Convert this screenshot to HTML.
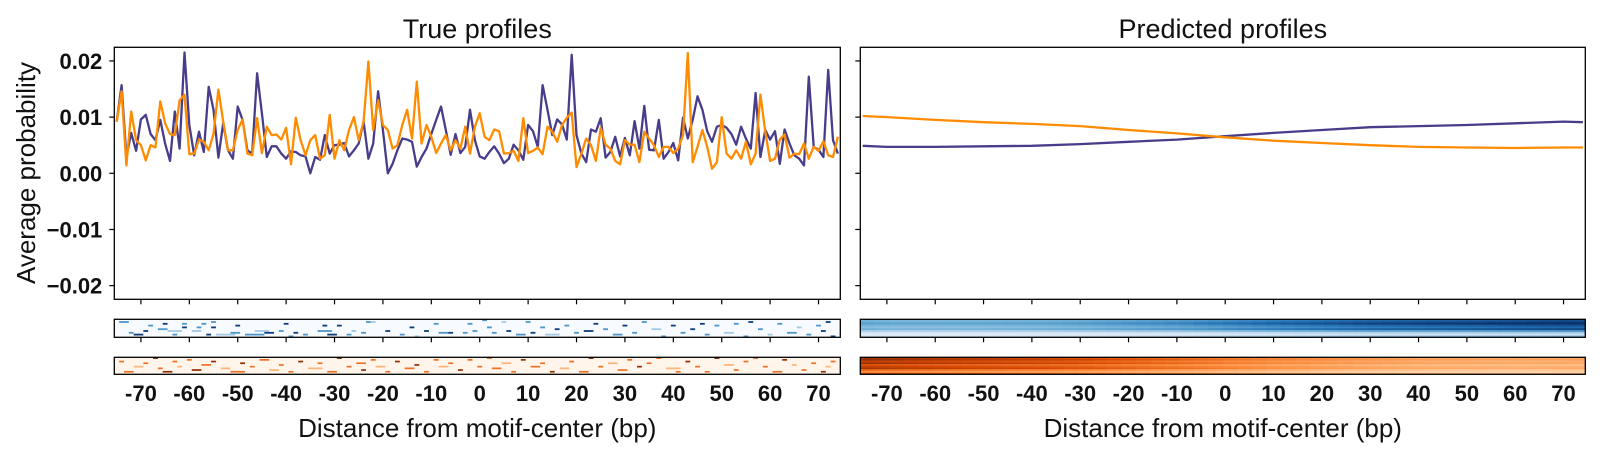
<!DOCTYPE html>
<html><head><meta charset="utf-8"><style>
body{margin:0;background:#fff;width:1600px;height:455px;overflow:hidden}
svg{display:block;font-family:"Liberation Sans",sans-serif}
.tl{font-size:22px;font-weight:bold;fill:#111}
</style></head><body>
<svg id="c" width="1600" height="455"></svg>
<script>
const positions = [];
for (let b = -75; b <= 74; b++) positions.push(b);
const trueBlue = [9.2,15.7,2.9,7.2,4,9.6,10.4,7,5.9,9.5,5.3,2.2,11,4.4,21.5,8.6,3.2,7.4,3.8,15.4,11.3,2.8,8.9,4.1,2.6,11.9,9.5,4.1,3.5,17.8,10.7,2.9,4.8,4.8,3.5,2.6,3.9,3.8,3.2,3,0,2.9,2.4,6.8,3.5,5,5.1,5.4,3,4.1,5.3,9.2,2.6,5.3,14.6,7.7,0,1.7,4.1,6.2,6,5.6,1.2,2.9,4.4,7,9.5,11.9,7.7,3.3,7,3.6,4.7,11.3,5.9,3,2.6,3.8,4.8,3.5,1.8,2.6,5.1,4.1,2.4,8.6,7.5,4.7,15.7,11.3,6.8,9.6,8.7,6,21.1,6.8,3.5,2,7.8,7.4,9.8,2.8,3.8,6.5,3,6.3,3.2,9.3,4.4,12,4.2,4.1,9.5,2.6,3.8,5.4,2.3,9.9,6.2,9.5,13.7,11.3,7.5,5.6,8.3,8.6,8.1,7,5.1,8.3,6.2,4.4,14.3,2.9,7.7,6,7.5,1.7,7.8,5.3,3.2,2.6,1.4,17.2,4.7,4.2,2.9,18.4,5.9,3.5];
const trueOrange = [9.2,14.6,1.4,11,5.9,5,2.3,5,4.6,12.8,8.9,7,6.8,13,14,3.4,3.5,6,5.6,4.1,7,14.9,9.2,4.1,4.1,7.7,9.6,3.5,3.2,9.8,3.6,8.3,6.8,6.9,6,8.1,1.6,9.9,5.9,3.2,5.9,6.8,2.6,3.2,10.4,2.6,5.9,4.1,7.7,10,5.9,9.2,19.9,7.7,13,8.6,7.7,4.4,5,8.6,11.3,6.2,16.3,5.3,8.6,6.5,3.6,5.3,6.8,4.1,5.9,4.4,8.3,3.5,8.3,10.7,6.5,5.9,7.8,7.5,3.5,3.6,4,2.2,9.8,3.6,4,4.6,3.4,8.3,7.4,5.6,8.6,9.9,10.8,1.1,3.5,6.2,5,2.2,8.1,5.1,4.4,2.2,1.6,5.9,5.1,5.1,2,7.4,6.2,5,2.9,4.7,4.7,3.6,4.4,6.8,21.4,2,4.7,7.7,4.7,0.8,2,10,3.5,2.6,4.1,2.6,5.6,1.6,3.5,14,7.4,2.2,2.6,6,6.9,2.8,3.5,3.4,5.3,2.6,4.7,4,5.7,3.2,2.9,6.5];
const predPos = [-75,-70,-60,-50,-40,-30,-20,-10,0,10,20,30,40,50,60,70,74];
const predBlue = [4.9,4.7,4.7,4.8,4.9,5.2,5.6,6.0,6.6,7.2,7.7,8.2,8.4,8.6,8.9,9.2,9.1];
const predOrange = [10.2,10.0,9.5,9.1,8.8,8.4,7.7,7.1,6.4,5.8,5.4,5.0,4.7,4.6,4.5,4.6,4.6];
const xTicks = [-70,-60,-50,-40,-30,-20,-10,0,10,20,30,40,50,60,70];
const yTicks = [0.02,0.01,0,-0.01,-0.02];
const yTickLabels = ["0.02","0.01","0.00","\u22120.01","\u22120.02"];
const predRowBlue = [1.0,1.1,1.2,1.0,0.9,1.05,0.7,0.4,0.25,0.5];
const predRowOrange = [1.1,1.2,1.0,1.15,0.9,1.0,1.1,0.8,0.6,0.9];
const trueCellsBlue = [[-74,1,2,2],[-72,7,2,1],[-71,8,3,2],[-69,6,3,1],[-68,3,2,1],[-66,5,2,2],[-65,2,3,1],[-64,6,1,3],[-63,8,2,1],[-61,4,3,1],[-61,2,2,1],[-59,6,1,2],[-58,4,2,1],[-57,2,2,1],[-56,8,3,1],[-55,1,2,1],[-55,4,3,1],[-54,8,1,4],[-51,7,2,2],[-50,3,3,1],[-48,8,2,4],[-46,6,1,3],[-44,7,3,2],[-41,6,2,1],[-40,2,3,1],[-39,9,2,1],[-38,7,3,1],[-36,8,2,1],[-33,6,2,3],[-32,3,3,1],[-31,8,3,2],[-29,3,3,1],[-27,8,2,1],[-26,6,1,1],[-24,7,2,1],[-23,1,2,1],[-22,1,1,1],[-19,6,3,1],[-16,8,2,1],[-14,4,3,1],[-13,9,1,1],[-11,6,3,1],[-9,2,2,1],[-8,7,2,2],[-6,7,3,1],[-3,7,2,1],[-2,2,2,1],[-1,6,2,1],[1,0,2,1],[2,4,2,1],[3,7,2,1],[5,1,1,1],[6,6,3,1],[8,8,2,2],[10,1,2,1],[11,7,3,1],[13,4,2,1],[14,8,1,3],[16,5,3,1],[18,3,2,1],[20,7,2,1],[22,6,3,2],[24,2,3,1],[26,5,2,1],[28,8,2,2],[30,3,3,1],[32,7,2,1],[34,1,2,1],[36,5,1,2],[38,9,2,1],[40,3,3,1],[42,7,2,1],[44,5,3,1],[46,2,3,1],[47,8,2,1],[49,3,2,1],[51,7,1,2],[53,2,2,1],[55,9,2,1],[56,1,3,1],[58,5,2,1],[60,8,1,1],[62,2,2,1],[64,7,2,2],[66,4,1,1],[68,8,2,1],[70,3,2,1],[71,6,3,1],[73,9,3,1],[72,1,3,1]];
const trueCellsOrange = [[-74,2,2,1],[-73,8,2,2],[-71,5,1,2],[-69,3,2,1],[-67,0,3,1],[-66,6,2,1],[-65,8,3,2],[-63,2,2,1],[-62,5,1,1],[-60,1,2,1],[-59,7,3,2],[-57,4,2,2],[-55,2,3,1],[-53,6,1,2],[-51,8,2,3],[-49,3,3,1],[-47,5,2,1],[-45,1,2,2],[-43,7,1,2],[-41,4,2,1],[-39,8,2,1],[-37,2,3,1],[-35,6,1,3],[-33,3,2,1],[-31,8,2,2],[-29,0,3,1],[-27,5,2,1],[-25,3,2,2],[-24,7,3,1],[-22,1,2,1],[-21,5,1,2],[-19,8,2,1],[-17,2,3,1],[-15,6,2,2],[-13,4,3,1],[-11,8,2,1],[-9,1,2,1],[-8,5,1,2],[-6,3,2,1],[-4,7,3,1],[-2,1,2,1],[0,5,2,1],[2,0,2,1],[3,6,2,2],[5,3,1,2],[7,8,2,1],[9,1,3,1],[11,5,2,2],[13,3,2,1],[15,8,3,1],[17,6,1,2],[19,2,2,1],[21,8,2,2],[23,0,3,1],[25,5,2,1],[27,3,1,2],[29,7,2,2],[31,1,2,1],[33,5,3,1],[35,3,2,1],[37,0,2,1],[39,6,1,3],[41,8,2,1],[43,2,3,1],[45,5,2,1],[47,8,2,1],[49,0,3,1],[51,4,1,2],[53,7,2,1],[55,2,2,1],[57,0,2,1],[59,5,2,1],[61,8,2,2],[63,1,3,1],[65,4,1,1],[67,7,2,1],[69,3,2,1],[71,8,3,1],[72,5,1,1],[73,2,2,1]];

const NS="http://www.w3.org/2000/svg";
const svg=document.getElementById('c');
function el(t,a,p){const e=document.createElementNS(NS,t);for(const k in a)e.setAttribute(k,a[k]);(p||svg).appendChild(e);return e;}
const AX={top:47.3,bot:299.3};
const panels=[{x0:114.3,x1:840.3,title:"True profiles",name:"true"},{x0:860.3,x1:1585.3,title:"Predicted profiles",name:"pred"}];
const YLIM=0.02243;
function yS(v){return 173.3 - v/YLIM*126;}
function mkX(p){return b=>p.x0+(b+75.5)/150*(p.x1-p.x0);}
const blueStops=["#f7fbff","#c6dbef","#6baed6","#2171b5","#08306b"];
const orStops=["#fff5eb","#fdd0a2","#fd8d3c","#d94801","#7f2704"];
function hex(c){return [1,3,5].map(i=>parseInt(c.substr(i,2),16));}
function cmap(st,v){v=Math.max(0,Math.min(1,v));const f=v*(st.length-1),i=Math.min(st.length-2,Math.floor(f)),t=f-i;const a=hex(st[i]),b=hex(st[i+1]);return "rgb("+a.map((x,k)=>Math.round(x+(b[k]-x)*t)).join(",")+")";}
function interp(xs,ys,x){for(let i=0;i<xs.length-1;i++){if(x<=xs[i+1]){const t=(x-xs[i])/(xs[i+1]-xs[i]);return ys[i]+(ys[i+1]-ys[i])*t;}}return ys[ys.length-1];}
const strips=[{y0:319.3,y1:337.3},{y0:357.3,y1:374.3}];

panels.forEach((p,pi)=>{
  const X=mkX(p);
  const g=el('g',{});
  
  
  const t=el('text',{x:(p.x0+p.x1)/2,y:38,'text-anchor':'middle','font-size':27,fill:'#111'},g);
  t.textContent=p.title;
  
  
  yTicks.forEach((v,i)=>{
    const y=yS(v);
    const tk=el('line',{x1:p.x0-5,x2:p.x0,y1:y,y2:y,stroke:'#000','stroke-width':1.2},g);
    
    
    if(pi===0){const l=el('text',{x:p.x0-12,y:y+8,'text-anchor':'end',class:'tl'},g);l.textContent=yTickLabels[i];
      
      }
  });
  const series = pi===0 ? [[positions,trueBlue,'#483d8b'],[positions,trueOrange,'#ff8c00']] : [[predPos,predBlue,'#483d8b'],[predPos,predOrange,'#ff8c00']];
  series.forEach((s,si)=>{
    const pts=s[1].slice(0,s[0].length).map((v,i)=>X(s[0][i]).toFixed(1)+","+yS(v/1000).toFixed(1)).join(" ");
    const pl=el('polyline',{points:pts,fill:'none',stroke:s[2],'stroke-width':2.3,'stroke-linejoin':'round'},g);
    
    
  });
  const fr=el('rect',{x:p.x0,y:AX.top,width:p.x1-p.x0,height:AX.bot-AX.top,fill:'none',stroke:'#000','stroke-width':1.3},g);
  
  
  strips.forEach((s,k)=>{
    const st=k===0?blueStops:orStops;
    const hg=el('g',{},g);
    
    
    el('rect',{x:p.x0,y:s.y0,width:p.x1-p.x0,height:s.y1-s.y0,fill:st[0]},hg);
    const rh=(s.y1-s.y0)/10;
    const bw=(p.x1-p.x0)/150;
    if(pi===0){
      const cells=k===0?trueCellsBlue:trueCellsOrange;
      cells.forEach(c=>{
        const r=el('rect',{x:X(c[0]-0.5),y:s.y0+c[1]*rh,width:bw*c[3],height:rh,fill:cmap(st,[0,0.35,0.6,0.95][c[2]])},hg);
        
        
      });
    } else {
      const rows=k===0?predRowBlue:predRowOrange;
      const prof=k===0?predBlue:predOrange;
      const mx=Math.max(...prof);
      const gain=k===0?0.88:0.8;
      for(let b=-75;b<=74;b+=3){
        const pv=interp(predPos,prof,b)/mx;
        rows.forEach((w,ri)=>{
          const r=el('rect',{x:X(b-0.5),y:s.y0+ri*rh,width:bw*3+0.3,height:rh+0.2,fill:cmap(st,gain*w*pv)},hg);
          
          
        });
      }
    }
    el('rect',{x:p.x0,y:s.y0,width:p.x1-p.x0,height:s.y1-s.y0,fill:'none',stroke:'#000','stroke-width':1.3},hg);
  });
  xTicks.forEach(b=>{
    const x=X(b);
    [AX.bot,strips[0].y1].forEach(y=>{
      const tk=el('line',{x1:x,x2:x,y1:y,y2:y+5,stroke:'#000','stroke-width':1.2},g);
      
      
    });
    const l=el('text',{x:x,y:401,'text-anchor':'middle',class:'tl'},g);
    l.textContent=String(b);
    
    
  });
  const xl=el('text',{x:(p.x0+p.x1)/2,y:437,'text-anchor':'middle','font-size':26,fill:'#111'},g);
  xl.textContent="Distance from motif-center (bp)";
  
  
});
const yl=el('text',{x:0,y:0,'text-anchor':'middle','font-size':26,fill:'#111',transform:'translate(35,173) rotate(-90)'});
yl.textContent="Average probability";


</script>
</body></html>
